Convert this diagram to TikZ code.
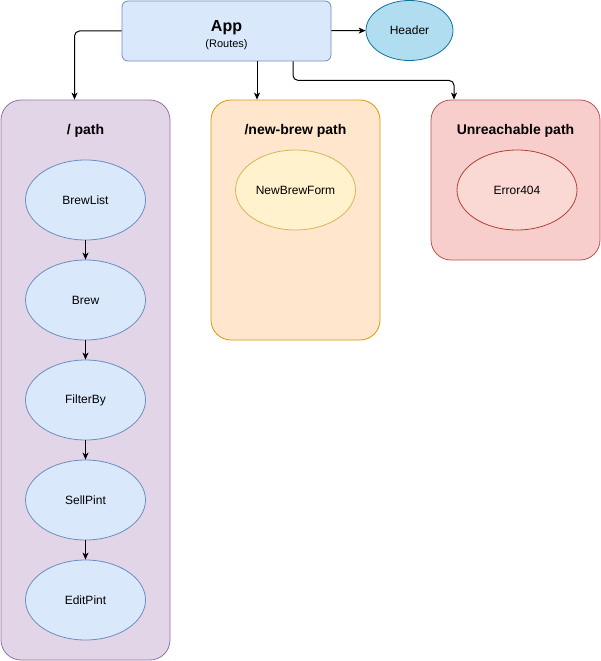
\documentclass[tikz,border=0pt]{standalone}
\usepackage{fontspec}
\setmainfont{Liberation Sans}
\usetikzlibrary{arrows.meta}
\usetikzlibrary{shapes.geometric}
\definecolor{appfill}{HTML}{DAE8FC}
\definecolor{appline}{HTML}{6C8EBF}
\definecolor{headfill}{HTML}{B1DDF0}
\definecolor{headline}{HTML}{10739E}
\definecolor{pathfill}{HTML}{E1D5E7}
\definecolor{pathline}{HTML}{9673A6}
\definecolor{newfill}{HTML}{FFE6CC}
\definecolor{newline}{HTML}{D79B00}
\definecolor{formfill}{HTML}{FFF2CC}
\definecolor{formline}{HTML}{D6B656}
\definecolor{badfill}{HTML}{F8CECC}
\definecolor{badline}{HTML}{B85450}
\definecolor{errfill}{HTML}{FAD9D5}
\definecolor{errline}{HTML}{AE4132}
\tikzstyle{connector}=[draw, line width=1pt, -{Stealth[length=7pt, width=6pt, inset=2pt]}]
\tikzstyle{component}=[ellipse, draw=appline, fill=appfill, line width=0.8pt, minimum width=120pt, minimum height=80pt, inner sep=0, font=\fontsize{12}{14}\selectfont]
\tikzstyle{route}=[draw, rounded corners=20pt, line width=0.8pt, minimum width=169pt, inner sep=0]
\tikzstyle{route title}=[font=\bfseries\fontsize{14}{16}\selectfont]

\begin{document}
\begin{tikzpicture}[x=1pt, y=-1pt]
      \useasboundingbox (0,0) rectangle (601,661);

      % the router
      \node[draw=appline, fill=appfill, rounded corners=6pt, line width=0.8pt,
            minimum width=209pt, minimum height=60pt] (app) at (226.5,31) {};
      \node[font=\bfseries\fontsize{16}{18}\selectfont] (apptitle) at (226.5,28) {App};
      \node[font=\fontsize{11}{13}\selectfont] (appsub) at (226.5,45) {(Routes)};
      \node[ellipse, draw=headline, fill=headfill, line width=0.8pt, minimum width=87pt,
            minimum height=60pt, inner sep=0, font=\fontsize{12}{14}\selectfont] (header) at (409.5,30.5) {Header};

      % routes
      \node[route, draw=pathline, fill=pathfill, minimum height=560pt] (pathbox) at (85.5,380) {};
      \node[route title] (pathtitle) at (85.5,131) {/ path};

      \node[route, draw=newline, fill=newfill, minimum height=240pt] (newbox) at (295.5,220) {};
      \node[route title] (newtitle) at (295.5,131) {/new-brew path};

      \node[route, draw=badline, fill=badfill, minimum height=160pt] (badbox) at (515.5,180) {};
      \node[route title] (badtitle) at (515.5,131) {Unreachable path};

      % components
      \foreach \name/\label/\y in {brewlist/BrewList/200, brew/Brew/300, filterby/FilterBy/400,
                                  sellpint/SellPint/500, editpint/EditPint/600}
        \node[component] (\name) at (85.5,\y) {\label};
      \node[component, draw=formline, fill=formfill] (newbrewform) at (295.5,190) {NewBrewForm};
      \node[component, draw=errline, fill=errfill] (error404) at (517,190) {Error404};

      \foreach \a/\b in {brewlist/brew, brew/filterby, filterby/sellpint, sellpint/editpint}
        \draw[connector] (\a) -- (\b);

      \draw[connector] (app) -- (header);
      \draw[connector, rounded corners=5pt] (app.west) -| ([xshift=-11pt]pathbox.north);
      \draw[connector] ([xshift=30.5pt]app.south) -- ([xshift=30.5pt]app.south |- newbox.north);
      \draw[connector, rounded corners=5pt] ([xshift=66.5pt]app.south) -- ++(0,19)
        -| ([xshift=-61.5pt]badbox.north);
    \end{tikzpicture}
\end{document}
